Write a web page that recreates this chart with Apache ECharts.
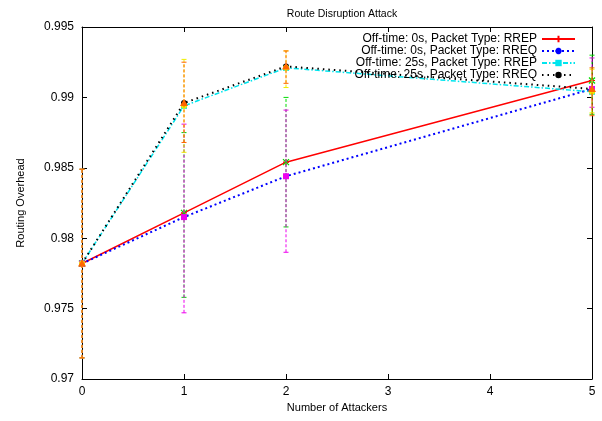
<!DOCTYPE html>
<html>
<head>
<meta charset="utf-8">
<script src="https://cdn.jsdelivr.net/npm/echarts@6/dist/echarts.min.js"></script>
<style>html,body{margin:0;padding:0;background:#fff}#c{width:602px;height:421px}</style>
</head>
<body>
<div id="c"></div>
<script>
const attackers = [0, 1, 2, 5];
const xTickLabels = ['0', '1', '2', '3', '4', '5'];
const yTickLabels = ['0.97', '0.975', '0.98', '0.985', '0.99', '0.995'];
const seriesNames = [
  'Off-time: 0s, Packet Type: RREP',
  'Off-time: 0s, Packet Type: RREQ',
  'Off-time: 25s, Packet Type: RREP',
  'Off-time: 25s, Packet Type: RREQ'
];
const rrep0 = [0.9782, 0.9818, 0.9854, 0.9912];
const rreq0 = [0.9782, 0.9815, 0.9844, 0.9906];
const rrep25 = [0.9782, 0.9894, 0.9921, 0.9904];
const rreq25 = [0.9782, 0.9896, 0.9922, 0.9906];
const rrep0Low = [0.9715, 0.9758, 0.9808, 0.9888];
const rrep0High = [0.9849, 0.9875, 0.9900, 0.9930];
const rreq0Low = [0.9715, 0.9747, 0.9790, 0.9893];
const rreq0High = [0.9849, 0.9881, 0.9891, 0.9928];
const rrep25Low = [0.9715, 0.9861, 0.9907, 0.9889];
const rrep25High = [0.9849, 0.9927, 0.9933, 0.9920];
const rreq25Low = [0.9715, 0.9868, 0.9910, 0.9887];
const rreq25High = [0.9849, 0.9925, 0.9933, 0.9921];

const FONT = 'Liberation Sans';
const pairs = (vals) => attackers.map((x, i) => [x, vals[i]]);
const errData = (lo, hi, mean) => attackers.map((x, i) => [x, lo[i], hi[i], mean[i]]);

const PLUS = 'path://M0,5L10,5M5,0L5,10';
const STAR = 'path://M0,5L10,5M5,0L5,10M1.5,1.5L8.5,8.5M1.5,8.5L8.5,1.5';

function errRender(color, mark) {
  return function (params, api) {
    const x = api.value(0);
    const pLo = api.coord([x, api.value(1)]);
    const pHi = api.coord([x, api.value(2)]);
    const pM = api.coord([x, api.value(3)]);
    const cap = 2.5;
    const st = { stroke: color, lineWidth: 1, lineDash: [3, 2] };
    const cst = { stroke: color, lineWidth: 1 };
    const ch = [
      { type: 'line', shape: { x1: pLo[0], y1: pLo[1], x2: pHi[0], y2: pHi[1] }, style: st },
      { type: 'line', shape: { x1: pLo[0] - cap, y1: pLo[1], x2: pLo[0] + cap, y2: pLo[1] }, style: cst },
      { type: 'line', shape: { x1: pHi[0] - cap, y1: pHi[1], x2: pHi[0] + cap, y2: pHi[1] }, style: cst }
    ];
    const s = 3;
    if (mark === 'x') {
      ch.push({ type: 'line', shape: { x1: pM[0] - s, y1: pM[1] - s, x2: pM[0] + s, y2: pM[1] + s }, style: { stroke: color, lineWidth: 1.2 } });
      ch.push({ type: 'line', shape: { x1: pM[0] - s, y1: pM[1] + s, x2: pM[0] + s, y2: pM[1] - s }, style: { stroke: color, lineWidth: 1.2 } });
    } else if (mark === 'square') {
      ch.push({ type: 'rect', shape: { x: pM[0] - s, y: pM[1] - s, width: 2 * s, height: 2 * s }, style: { fill: color } });
    } else if (mark === 'circle') {
      ch.push({ type: 'circle', shape: { cx: pM[0], cy: pM[1], r: s }, style: { fill: color } });
    } else if (mark === 'triangle') {
      ch.push({ type: 'polygon', shape: { points: [[pM[0], pM[1] - 4], [pM[0] - 4, pM[1] + 3], [pM[0] + 4, pM[1] + 3]] }, style: { fill: color } });
    }
    return { type: 'group', children: ch };
  };
}

const chart = echarts.init(document.getElementById('c'), null, { renderer: 'canvas' });
const axisCommon = {
  axisLine: { show: true, onZero: false, lineStyle: { color: '#000', width: 1 } },
  axisTick: { show: true, inside: true, length: 5, lineStyle: { color: '#000' } },
  splitLine: { show: false }
};
const lineCommon = { showSymbol: true, symbolSize: 6, z: 3 };

chart.setOption({
  animation: false,
  backgroundColor: '#fff',
  textStyle: { fontFamily: FONT },
  title: {
    text: 'Route Disruption Attack', left: 337, top: 4, textAlign: 'center',
    textStyle: { fontFamily: FONT, fontSize: 10.5, fontWeight: 'normal', color: '#000' }
  },
  grid: { left: 82, right: 10, top: 27, bottom: 42, containLabel: false },
  legend: {
    orient: 'vertical', right: 21, top: 28, align: 'right',
    itemWidth: 33, itemHeight: 8, itemGap: 0,
    textStyle: { fontFamily: FONT, fontSize: 12, color: '#000', lineHeight: 12 },
    data: seriesNames
  },
  xAxis: [
    Object.assign({
      type: 'value', min: 0, max: 5, interval: 1, position: 'bottom',
      name: 'Number of Attackers', nameLocation: 'middle', nameGap: 22,
      nameTextStyle: { fontFamily: FONT, fontSize: 11, color: '#000' },
      axisLabel: { color: '#000', fontSize: 12, fontFamily: FONT, margin: 7,
        formatter: (v) => xTickLabels[Math.round(v)] }
    }, axisCommon),
    Object.assign({
      type: 'value', min: 0, max: 5, interval: 1, position: 'top',
      axisLabel: { show: false }
    }, axisCommon)
  ],
  yAxis: [
    Object.assign({
      type: 'value', min: 0.97, max: 0.995, interval: 0.005, position: 'left',
      name: 'Routing Overhead', nameLocation: 'middle', nameGap: 56,
      nameTextStyle: { fontFamily: FONT, fontSize: 11, color: '#000' },
      axisLabel: { color: '#000', fontSize: 12, fontFamily: FONT, margin: 8,
        formatter: (v) => yTickLabels[Math.round((v - 0.97) / 0.005)] }
    }, axisCommon),
    Object.assign({
      type: 'value', min: 0.97, max: 0.995, interval: 0.005, position: 'right',
      axisLabel: { show: false }
    }, axisCommon)
  ],
  series: [
    Object.assign({
      name: seriesNames[0], type: 'line', data: pairs(rrep0),
      symbol: PLUS, lineStyle: { color: '#ff0000', width: 1.5, type: 'solid' },
      itemStyle: { color: '#ff0000', borderColor: '#ff0000', borderWidth: 1.2 }
    }, lineCommon),
    Object.assign({
      name: seriesNames[1], type: 'line', data: pairs(rreq0),
      symbol: STAR, lineStyle: { color: '#0000ff', width: 2, type: [2, 3] },
      itemStyle: { color: '#0000ff', borderColor: '#0000ff', borderWidth: 1.2 }
    }, lineCommon),
    Object.assign({
      name: seriesNames[2], type: 'line', data: pairs(rrep25),
      symbol: 'rect', lineStyle: { color: '#00e5ee', width: 1.5, type: [5, 2, 1.5, 2] },
      itemStyle: { color: '#00e5ee' }
    }, lineCommon),
    Object.assign({
      name: seriesNames[3], type: 'line', data: pairs(rreq25),
      symbol: 'circle', lineStyle: { color: '#000000', width: 2, type: [1.5, 4] },
      itemStyle: { color: '#000000' }
    }, lineCommon),
    { type: 'custom', name: 'err0', data: errData(rrep0Low, rrep0High, rrep0), renderItem: errRender('#00dd00', 'x'), z: 4 },
    { type: 'custom', name: 'err1', data: errData(rreq0Low, rreq0High, rreq0), renderItem: errRender('#ee00ee', 'square'), z: 4 },
    { type: 'custom', name: 'err2', data: errData(rrep25Low, rrep25High, rrep25), renderItem: errRender('#eeee00', 'circle'), z: 4 },
    { type: 'custom', name: 'err3', data: errData(rreq25Low, rreq25High, rreq25), renderItem: errRender('#ff6600', 'triangle'), z: 4 }
  ]
});
</script>
</body>
</html>
